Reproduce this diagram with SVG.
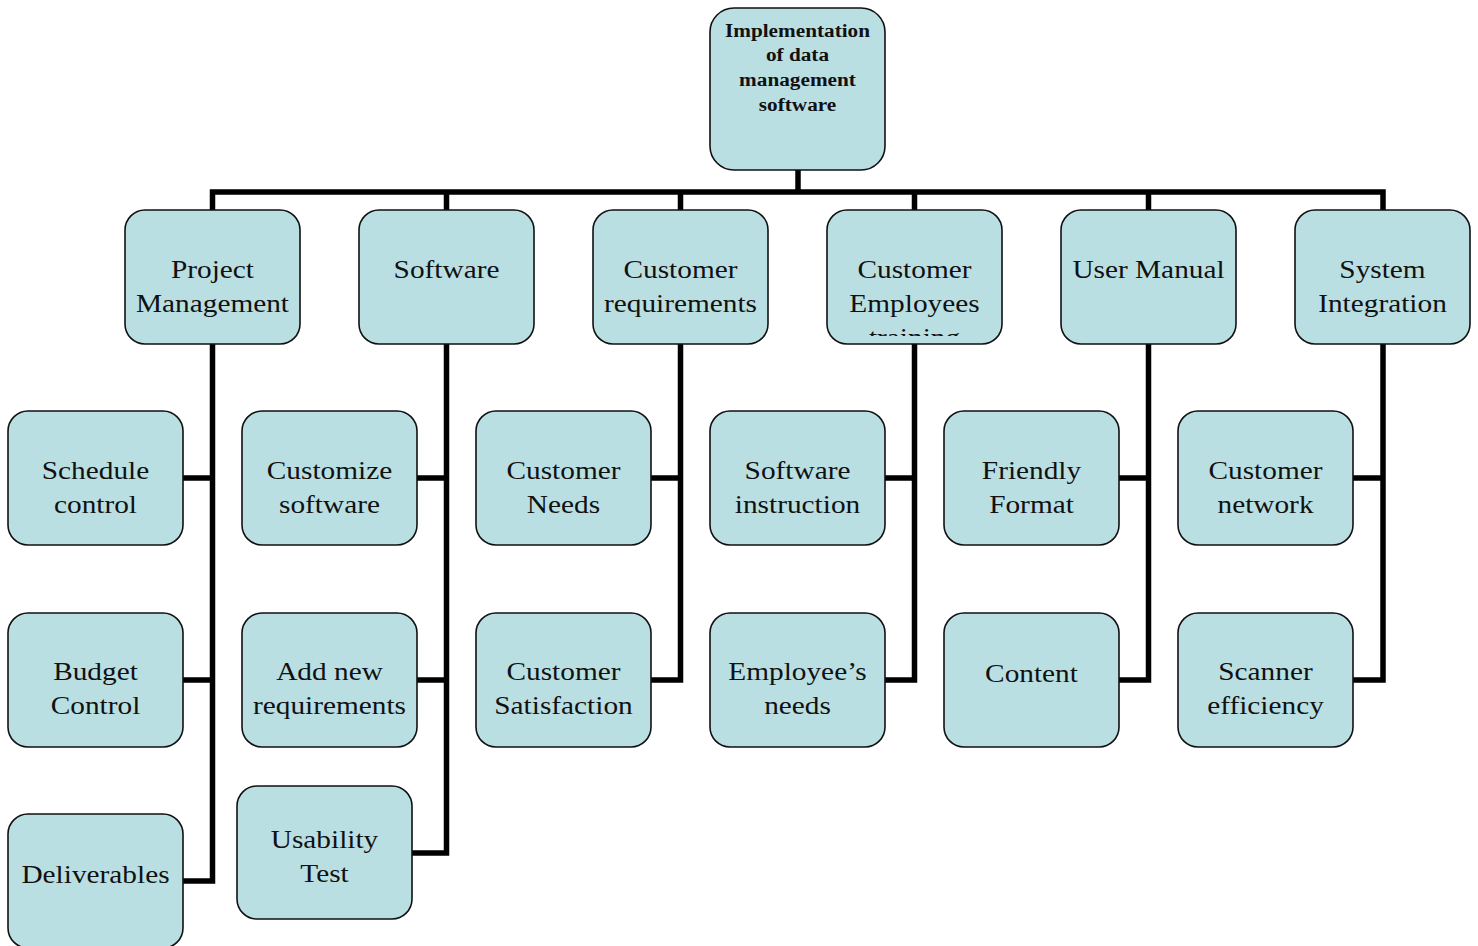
<svg xmlns="http://www.w3.org/2000/svg" width="1478" height="946" viewBox="0 0 1478 946">
  <style>
    .box { fill: #BADFE3; stroke: #111; stroke-width: 1.6; }
    .lbl { font-family: "Liberation Serif", "Times New Roman", serif; font-size: 25.5px; fill: #111; text-anchor: middle; }
    .root { font-family: "Liberation Serif", "Times New Roman", serif; font-size: 18.8px; font-weight: bold; fill: #111; text-anchor: middle; }
    .wire { fill: none; stroke: #000; stroke-width: 5.5; stroke-linejoin: miter; stroke-linecap: butt; }
  </style>
  <defs>
    <clipPath id="clipTraining">
      <rect x="827" y="210" width="175" height="126"/>
    </clipPath>
  </defs>
  <rect x="0" y="0" width="1478" height="946" fill="#fff"/>

  <!-- connectors -->
  <g id="connectors">
    <path class="wire" d="M798 170 V192"/>
    <path class="wire" d="M212.5 210 V192 H1383 V210"/>
    <path class="wire" d="M446.5 192 V210 M680.5 192 V210 M914.5 192 V210 M1148.5 192 V210"/>
    <!-- Project Management branch -->
    <path class="wire" d="M212.5 344 V881 H183 M212.5 478 H183 M212.5 680 H183"/>
    <!-- Software branch -->
    <path class="wire" d="M446.5 344 V853 H412 M446.5 478 H417 M446.5 680 H417"/>
    <!-- Customer requirements branch -->
    <path class="wire" d="M680.5 344 V680 H651 M680.5 478 H651"/>
    <!-- Customer Employees training branch -->
    <path class="wire" d="M914.5 344 V680 H885 M914.5 478 H885"/>
    <!-- User Manual branch -->
    <path class="wire" d="M1148.5 344 V680 H1119 M1148.5 478 H1119"/>
    <!-- System Integration branch -->
    <path class="wire" d="M1383 344 V680 H1353 M1383 478 H1353"/>
  </g>

  <!-- root -->
  <g id="root">
    <rect class="box" x="710" y="8" width="175" height="162" rx="24"/>
    <g transform="translate(797.5 0) scale(1.13 1)">
      <text class="root" x="0" y="37">Implementation</text>
      <text class="root" x="0" y="61">of data</text>
      <text class="root" x="0" y="86">management</text>
      <text class="root" x="0" y="111">software</text>
    </g>
  </g>

  <!-- first level -->
  <g id="project-management">
    <rect class="box" x="125" y="210" width="175" height="134" rx="20"/>
    <g transform="translate(212.5 0) scale(1.15 1)">
      <text class="lbl" x="0" y="278">Project</text>
      <text class="lbl" x="0" y="312">Management</text>
    </g>
  </g>
  <g id="software">
    <rect class="box" x="359" y="210" width="175" height="134" rx="20"/>
    <g transform="translate(446.5 0) scale(1.15 1)">
      <text class="lbl" x="0" y="278">Software</text>
    </g>
  </g>
  <g id="customer-requirements">
    <rect class="box" x="593" y="210" width="175" height="134" rx="20"/>
    <g transform="translate(680.5 0) scale(1.15 1)">
      <text class="lbl" x="0" y="278">Customer</text>
      <text class="lbl" x="0" y="312">requirements</text>
    </g>
  </g>
  <g id="customer-employees-training">
    <rect class="box" x="827" y="210" width="175" height="134" rx="20"/>
    <g clip-path="url(#clipTraining)">
      <g transform="translate(914.5 0) scale(1.15 1)">
        <text class="lbl" x="0" y="278">Customer</text>
        <text class="lbl" x="0" y="312">Employees</text>
        <text class="lbl" x="0" y="346">training</text>
      </g>
    </g>
  </g>
  <g id="user-manual">
    <rect class="box" x="1061" y="210" width="175" height="134" rx="20"/>
    <g transform="translate(1148.5 0) scale(1.15 1)">
      <text class="lbl" x="0" y="278">User Manual</text>
    </g>
  </g>
  <g id="system-integration">
    <rect class="box" x="1295" y="210" width="175" height="134" rx="20"/>
    <g transform="translate(1382.5 0) scale(1.15 1)">
      <text class="lbl" x="0" y="278">System</text>
      <text class="lbl" x="0" y="312">Integration</text>
    </g>
  </g>

  <!-- second level: Project Management -->
  <g id="schedule-control">
    <rect class="box" x="8" y="411" width="175" height="134" rx="20"/>
    <g transform="translate(95.5 0) scale(1.15 1)">
      <text class="lbl" x="0" y="479">Schedule</text>
      <text class="lbl" x="0" y="513">control</text>
    </g>
  </g>
  <g id="budget-control">
    <rect class="box" x="8" y="613" width="175" height="134" rx="20"/>
    <g transform="translate(95.5 0) scale(1.15 1)">
      <text class="lbl" x="0" y="680">Budget</text>
      <text class="lbl" x="0" y="714">Control</text>
    </g>
  </g>
  <g id="deliverables">
    <rect class="box" x="8" y="814" width="175" height="134" rx="20"/>
    <g transform="translate(95.5 0) scale(1.15 1)">
      <text class="lbl" x="0" y="883">Deliverables</text>
    </g>
  </g>

  <!-- second level: Software -->
  <g id="customize-software">
    <rect class="box" x="242" y="411" width="175" height="134" rx="20"/>
    <g transform="translate(329.5 0) scale(1.15 1)">
      <text class="lbl" x="0" y="479">Customize</text>
      <text class="lbl" x="0" y="513">software</text>
    </g>
  </g>
  <g id="add-new-requirements">
    <rect class="box" x="242" y="613" width="175" height="134" rx="20"/>
    <g transform="translate(329.5 0) scale(1.15 1)">
      <text class="lbl" x="0" y="680">Add new</text>
      <text class="lbl" x="0" y="714">requirements</text>
    </g>
  </g>
  <g id="usability-test">
    <rect class="box" x="237" y="786" width="175" height="133" rx="20"/>
    <g transform="translate(324.5 0) scale(1.15 1)">
      <text class="lbl" x="0" y="848">Usability</text>
      <text class="lbl" x="0" y="882">Test</text>
    </g>
  </g>

  <!-- second level: Customer requirements -->
  <g id="customer-needs">
    <rect class="box" x="476" y="411" width="175" height="134" rx="20"/>
    <g transform="translate(563.5 0) scale(1.15 1)">
      <text class="lbl" x="0" y="479">Customer</text>
      <text class="lbl" x="0" y="513">Needs</text>
    </g>
  </g>
  <g id="customer-satisfaction">
    <rect class="box" x="476" y="613" width="175" height="134" rx="20"/>
    <g transform="translate(563.5 0) scale(1.15 1)">
      <text class="lbl" x="0" y="680">Customer</text>
      <text class="lbl" x="0" y="714">Satisfaction</text>
    </g>
  </g>

  <!-- second level: Customer Employees training -->
  <g id="software-instruction">
    <rect class="box" x="710" y="411" width="175" height="134" rx="20"/>
    <g transform="translate(797.5 0) scale(1.15 1)">
      <text class="lbl" x="0" y="479">Software</text>
      <text class="lbl" x="0" y="513">instruction</text>
    </g>
  </g>
  <g id="employees-needs">
    <rect class="box" x="710" y="613" width="175" height="134" rx="20"/>
    <g transform="translate(797.5 0) scale(1.15 1)">
      <text class="lbl" x="0" y="680">Employee’s</text>
      <text class="lbl" x="0" y="714">needs</text>
    </g>
  </g>

  <!-- second level: User Manual -->
  <g id="friendly-format">
    <rect class="box" x="944" y="411" width="175" height="134" rx="20"/>
    <g transform="translate(1031.5 0) scale(1.15 1)">
      <text class="lbl" x="0" y="479">Friendly</text>
      <text class="lbl" x="0" y="513">Format</text>
    </g>
  </g>
  <g id="content">
    <rect class="box" x="944" y="613" width="175" height="134" rx="20"/>
    <g transform="translate(1031.5 0) scale(1.15 1)">
      <text class="lbl" x="0" y="682">Content</text>
    </g>
  </g>

  <!-- second level: System Integration -->
  <g id="customer-network">
    <rect class="box" x="1178" y="411" width="175" height="134" rx="20"/>
    <g transform="translate(1265.5 0) scale(1.15 1)">
      <text class="lbl" x="0" y="479">Customer</text>
      <text class="lbl" x="0" y="513">network</text>
    </g>
  </g>
  <g id="scanner-efficiency">
    <rect class="box" x="1178" y="613" width="175" height="134" rx="20"/>
    <g transform="translate(1265.5 0) scale(1.15 1)">
      <text class="lbl" x="0" y="680">Scanner</text>
      <text class="lbl" x="0" y="714">efficiency</text>
    </g>
  </g>
</svg>
